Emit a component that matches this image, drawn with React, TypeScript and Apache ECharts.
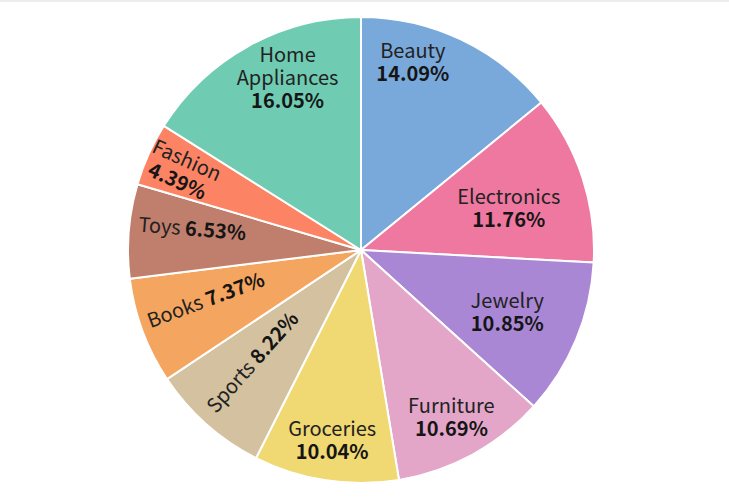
import React, { useEffect, useRef } from "react";
import * as echarts from "echarts";

const categories = ["Beauty", "Electronics", "Jewelry", "Furniture", "Groceries", "Sports", "Books", "Toys", "Fashion", "Home Appliances"];
const values = [14.09, 11.76, 10.85, 10.69, 10.04, 8.22, 7.37, 6.53, 4.39, 16.05];
const nameLines = [["Beauty"], ["Electronics"], ["Jewelry"], ["Furniture"], ["Groceries"], ["Sports"], ["Books"], ["Toys"], ["Fashion"], ["Home", "Appliances"]];

// styles / label placement (not data)
const colors = ["#79a9da", "#ee789f", "#a987d4", "#e3a6c8", "#f0d872", "#d3c19f", "#f4a55f", "#c07e6c", "#fc8464", "#6fcbb2"];
const labelInline = [false, false, false, false, false, true, true, true, false, false];
const labelRotated = [false, false, false, false, false, true, true, true, true, false];
const labelRadius = [0.84, 0.66, 0.68, 0.81, 0.82, 0.67, 0.7, 0.73, 0.84, 0.81];
const labelAngleShift = [-10, 2, 0, 0, 0, 3, 3, 3, 0, 6];

const FONT = "Noto Sans CJK SC";
const CX = 361;
const CY = 250;
const R = 233;
const FS = 20;
const LH = 23;

export default function App() {
  const ref = useRef<HTMLDivElement>(null);
  useEffect(() => {
    if (!ref.current) return;
    const chart = echarts.init(ref.current, undefined, { renderer: "svg" });
    const total = values.reduce((a, b) => a + b, 0);
    const midAngle = (i: number) => {
      let s = 0;
      for (let j = 0; j < i; j++) s += values[j];
      return ((s + values[i] / 2) / total) * 360;
    };
    chart.setOption({
      animation: false,
      backgroundColor: "#ffffff",
      textStyle: { fontFamily: FONT },
      graphic: [
        { type: "rect", left: 0, top: 0, shape: { width: 729, height: 2 }, style: { fill: "#ececf1" } },
      ],
      series: [
        {
          type: "pie",
          center: [CX, CY],
          radius: R,
          startAngle: 90,
          clockwise: true,
          avoidLabelOverlap: false,
          emphasis: { disabled: true },
          itemStyle: { borderColor: "#ffffff", borderWidth: 2 },
          label: {
            show: true,
            position: "inside",
            color: "#222222",
            fontFamily: FONT,
            fontSize: FS,
            lineHeight: LH,
            formatter: (p: any) => {
              const i = p.dataIndex;
              const pct = `{p|${values[i].toFixed(2)}%}`;
              const names = nameLines[i].map((n) => `{n|${n}}`);
              if (labelInline[i]) return `${names.join(" ")} ${pct}`;
              return [...names, pct].join("\n");
            },
            rich: {
              n: { fontSize: FS, lineHeight: LH, color: "#222222", fontFamily: FONT },
              p: { fontSize: FS, lineHeight: LH, color: "#151515", fontWeight: "bold", fontFamily: FONT },
            },
          },
          labelLine: { show: false },
          labelLayout: (p: any) => {
            const i = p.dataIndex;
            const m = midAngle(i);
            const a = ((m + labelAngleShift[i]) * Math.PI) / 180;
            const rl = R * labelRadius[i];
            return {
              x: CX + rl * Math.sin(a),
              y: CY - rl * Math.cos(a),
              align: "center",
              verticalAlign: "middle",
              rotate: labelRotated[i] ? 270 - m : 0,
            };
          },
          data: categories.map((name, i) => ({
            name,
            value: values[i],
            itemStyle: { color: colors[i] },
          })),
        },
      ],
    });
    return () => chart.dispose();
  }, []);
  return <div ref={ref} style={{ position: "fixed", left: 0, top: 0, width: 729, height: 498 }} />;
}
